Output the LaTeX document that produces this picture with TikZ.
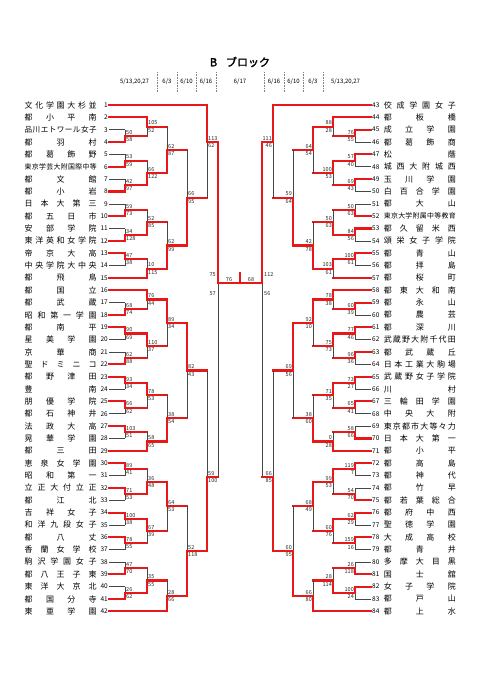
\documentclass[tikz,border=0pt]{standalone}
\usepackage{fontspec}
\setmainfont{Noto Sans CJK JP}[AutoFakeBold=2]
\usetikzlibrary{positioning}
\definecolor{winred}{RGB}{232,24,24}
\definecolor{losegray}{RGB}{70,70,70}
\tikzstyle{winline} = [draw=winred, line width=2.1pt, line cap=rect]
\tikzstyle{loseline} = [draw=losegray, line width=0.6pt]
\tikzstyle{score} = [font=\fontsize{5.5}{6}\selectfont, inner sep=0pt, text=black!85]
\tikzstyle{teamno} = [font=\fontsize{6.5}{7}\selectfont, inner sep=1pt]
\tikzstyle{sep} = [draw=gray, densely dotted, line width=0.6pt]
\tikzstyle{datelab} = [font=\fontsize{6}{7}\selectfont, inner sep=0pt]

% spread the characters of a name over a fixed width
\def\spreadA#1#2{#1\ifx\relax#2\else\hfill\expandafter\spreadA\expandafter#2\fi}
\newcommand{\spread}[1]{\hbox to 72pt{\expandafter\spreadA#1\relax}}

% one game on the left: x, y top, y bottom, y out, x next, winner, scores
\newcommand{\lbout}[8]{%
  \draw[loseline] (#1,#2) -- (#1,#3);
  \ifnum#6=1 \draw[winline] (#1,#2) -- (#1,#4) -- (#5,#4);
  \else \draw[winline] (#1,#3) -- (#1,#4) -- (#5,#4);\fi
  \node[score, anchor=south west] at (#1+1,#4-1.4) {#7};
  \node[score, anchor=north west] at (#1+1,#4+1.4) {#8};
}
% one game on the right
\newcommand{\rbout}[8]{%
  \draw[loseline] (#1,#2) -- (#1,#3);
  \ifnum#6=1 \draw[winline] (#1,#2) -- (#1,#4) -- (#5,#4);
  \else \draw[winline] (#1,#3) -- (#1,#4) -- (#5,#4);\fi
  \node[score, anchor=south east] at (#1-1,#4-1.4) {#7};
  \node[score, anchor=north east] at (#1-1,#4+1.4) {#8};
}

\begin{document}
\begin{tikzpicture}[x=1pt, y=-1pt]
  \useasboundingbox (0,0) rectangle (481,680);

  % title and dates
  \node[font=\bfseries\fontsize{11}{12}\selectfont] (title) at (240,62) {B\hspace{0.8em}ブロック};
  \foreach \xs in {157,177,196,216,264,284,303,323}
    \draw[sep] (\xs,72) -- (\xs,92);
  \foreach \xd/\dd in {134.5/{5/13,20,27}, 167/{6/3}, 186.5/{6/10}, 206/{6/16},
                       240/{6/17}, 274/{6/16}, 293.5/{6/10}, 313/{6/3}, 345.5/{5/13,20,27}}
    \node[datelab] at (\xd,82) {\dd};

  % left teams
  \foreach \k/\nm/\xe/\st/\fs in {
      1/文化学園大杉並/207/winline/8, 2/都小平南/147/winline/8,
      3/品川エトワール女子/125/loseline/7.6, 4/都羽村/125/winline/8,
      5/都葛飾野/125/loseline/8, 6/東京学芸大附国際中等/125/winline/6.9,
      7/都文館/125/loseline/8, 8/都小岩/125/winline/8,
      9/日本大第三/125/loseline/8, 10/都五日市/125/winline/8,
      11/安部学院/125/loseline/8, 12/東洋英和女学院/125/winline/8,
      13/帝京大高/125/winline/8, 14/中央学院大中央/125/loseline/8,
      15/都飛鳥/147/winline/8, 16/都国立/147/winline/8,
      17/都武蔵/125/loseline/8, 18/昭和第一学園/125/winline/8,
      19/都南平/125/winline/8, 20/星美学園/125/loseline/8,
      21/京華商/125/loseline/8, 22/聖ドミニコ/125/winline/8,
      23/都野津田/125/winline/8, 24/豊南/125/loseline/8,
      25/朋優学院/125/winline/8, 26/都石神井/125/loseline/8,
      27/法政大高/125/winline/8, 28/晃華学園/125/loseline/8,
      29/都三田/147/winline/8, 30/恵泉女学園/125/winline/8,
      31/昭和第一/125/loseline/8, 32/立正大付立正/125/winline/8,
      33/都江北/125/loseline/8, 34/吉祥女子/125/winline/8,
      35/和洋九段女子/125/loseline/8, 36/都八丈/125/winline/8,
      37/香蘭女学校/125/loseline/8, 38/駒沢学園女子/125/loseline/8,
      39/都八王子東/125/winline/8, 40/東洋大京北/125/loseline/8,
      41/都国分寺/125/winline/8, 42/東亜学園/167/winline/8}
  {
    \node[teamno, anchor=east] (L\k) at (109,{105+(\k-1)*12.35}) {\k};
    \node[inner sep=0pt, anchor=west, font=\fontsize{\fs}{10}\selectfont] (LN\k)
      at (24.5,{105+(\k-1)*12.35}) {\spread{\nm}};
    \draw[\st] (L\k.east) -- (L\k.east -| \xe,0);
  }

  % right teams
  \foreach \k/\nm/\xe/\st/\fs in {
      43/佼成学園女子/273/winline/8, 44/都板橋/333/winline/8,
      45/成立学園/355/winline/8, 46/都葛飾商/355/loseline/8,
      47/松蔭/355/winline/8, 48/城西大附城西/355/loseline/8,
      49/玉川学園/355/winline/8, 50/白百合学園/355/loseline/8,
      51/都大山/355/loseline/8, 52/東京大学附属中等教育/355/winline/6.9,
      53/都久留米西/355/winline/8, 54/頌栄女子学院/355/loseline/8,
      55/都青山/355/winline/8, 56/都拝島/355/loseline/8,
      57/都桜町/333/winline/8, 58/都東大和南/333/winline/8,
      59/都永山/355/winline/8, 60/都農芸/355/loseline/8,
      61/都深川/355/winline/8, 62/武蔵野大附千代田/355/loseline/8,
      63/都武蔵丘/355/winline/8, 64/日本工業大駒場/355/loseline/8,
      65/武蔵野女子学院/355/winline/8, 66/川村/355/loseline/8,
      67/三輪田学園/355/winline/8, 68/中央大附/355/loseline/8,
      69/東京都市大等々力/355/loseline/8, 70/日本大第一/355/winline/8,
      71/都小平/333/winline/8, 72/都高島/355/winline/8,
      73/都神代/355/loseline/8, 74/都竹早/355/loseline/8,
      75/都若葉総合/355/winline/8, 76/都府中西/355/winline/8,
      77/聖徳学園/355/loseline/8, 78/大成高校/355/winline/8,
      79/都青井/355/loseline/8, 80/多摩大目黒/355/loseline/8,
      81/国士舘/355/winline/8, 82/女子学院/355/winline/8,
      83/都戸山/355/loseline/8, 84/都上水/313/winline/8}
  {
    \node[teamno, anchor=west] (R\k) at (371,{105+(\k-43)*12.35}) {\k};
    \node[inner sep=0pt, anchor=east, font=\fontsize{\fs}{10}\selectfont] (RN\k)
      at (456,{105+(\k-43)*12.35}) {\spread{\nm}};
    \draw[\st] (R\k.west) -- (R\k.west -| \xe,0);
  }

  % left: first games
  \lbout{125}{129.70}{142.05}{135.88}{147}{2}{50}{58}
  \lbout{125}{154.40}{166.75}{160.58}{147}{2}{53}{59}
  \lbout{125}{179.10}{191.45}{185.28}{147}{2}{42}{97}
  \lbout{125}{203.80}{216.15}{209.98}{147}{2}{59}{73}
  \lbout{125}{228.50}{240.85}{234.68}{147}{2}{34}{128}
  \lbout{125}{253.20}{265.55}{259.38}{147}{1}{47}{38}
  \lbout{125}{302.60}{314.95}{308.78}{147}{2}{68}{74}
  \lbout{125}{327.30}{339.65}{333.48}{147}{1}{90}{69}
  \lbout{125}{352.00}{364.35}{358.18}{147}{2}{62}{88}
  \lbout{125}{376.70}{389.05}{382.88}{147}{1}{93}{34}
  \lbout{125}{401.40}{413.75}{407.58}{147}{1}{66}{62}
  \lbout{125}{426.10}{438.45}{432.28}{147}{1}{103}{51}
  \lbout{125}{463.15}{475.50}{469.33}{147}{1}{89}{41}
  \lbout{125}{487.85}{500.20}{494.03}{147}{1}{71}{53}
  \lbout{125}{512.55}{524.90}{518.73}{147}{1}{100}{38}
  \lbout{125}{537.25}{549.60}{543.43}{147}{1}{78}{55}
  \lbout{125}{561.95}{574.30}{568.13}{147}{2}{47}{70}
  \lbout{125}{586.65}{599.00}{592.83}{147}{2}{26}{62}
  % left: second games
  \lbout{147}{117.35}{135.88}{126.60}{167}{1}{105}{52}
  \lbout{147}{160.58}{185.28}{172.93}{167}{2}{66}{122}
  \lbout{147}{209.98}{234.68}{222.33}{167}{2}{52}{85}
  \lbout{147}{259.38}{277.90}{268.64}{167}{2}{10}{115}
  \lbout{147}{290.25}{308.78}{299.51}{167}{1}{76}{44}
  \lbout{147}{333.48}{358.18}{345.83}{167}{1}{110}{37}
  \lbout{147}{382.88}{407.58}{395.23}{167}{1}{78}{53}
  \lbout{147}{432.28}{450.80}{441.54}{167}{2}{58}{65}
  \lbout{147}{469.33}{494.03}{481.68}{167}{2}{36}{48}
  \lbout{147}{518.73}{543.43}{531.08}{167}{1}{67}{39}
  \lbout{147}{568.13}{592.83}{580.48}{167}{2}{35}{55}
  % left: 6/3
  \lbout{167}{126.60}{172.93}{149.76}{187}{2}{62}{87}
  \lbout{167}{222.33}{268.64}{245.48}{187}{2}{62}{99}
  \lbout{167}{299.51}{345.83}{322.67}{187}{1}{89}{34}
  \lbout{167}{395.23}{441.54}{418.38}{187}{2}{38}{54}
  \lbout{167}{481.68}{531.08}{506.38}{187}{1}{64}{53}
  \lbout{167}{580.48}{611.35}{595.90}{187}{2}{28}{66}
  % left: 6/10
  \lbout{187}{149.76}{245.48}{197.62}{207}{2}{66}{95}
  \lbout{187}{322.67}{418.38}{370.50}{207}{1}{82}{43}
  \lbout{187}{506.38}{595.90}{551.10}{207}{2}{52}{118}
  % left: 6/16
  \lbout{207}{105.00}{197.62}{142.00}{218}{1}{113}{62}
  \lbout{207}{370.50}{551.10}{477.00}{218}{2}{59}{100}

  % right: first games
  \rbout{355}{129.70}{142.05}{135.88}{333}{1}{76}{55}
  \rbout{355}{154.40}{166.75}{160.58}{333}{1}{57}{40}
  \rbout{355}{179.10}{191.45}{185.28}{333}{1}{69}{43}
  \rbout{355}{203.80}{216.15}{209.98}{333}{2}{50}{63}
  \rbout{355}{228.50}{240.85}{234.68}{333}{1}{84}{56}
  \rbout{355}{253.20}{265.55}{259.38}{333}{1}{100}{61}
  \rbout{355}{302.60}{314.95}{308.78}{333}{1}{60}{39}
  \rbout{355}{327.30}{339.65}{333.48}{333}{1}{77}{46}
  \rbout{355}{352.00}{364.35}{358.18}{333}{1}{96}{36}
  \rbout{355}{376.70}{389.05}{382.88}{333}{1}{73}{27}
  \rbout{355}{401.40}{413.75}{407.58}{333}{1}{65}{41}
  \rbout{355}{426.10}{438.45}{432.28}{333}{2}{58}{66}
  \rbout{355}{463.15}{475.50}{469.33}{333}{1}{119}{7}
  \rbout{355}{487.85}{500.20}{494.03}{333}{2}{54}{70}
  \rbout{355}{512.55}{524.90}{518.73}{333}{1}{62}{29}
  \rbout{355}{537.25}{549.60}{543.43}{333}{1}{159}{16}
  \rbout{355}{561.95}{574.30}{568.13}{333}{2}{26}{118}
  \rbout{355}{586.65}{599.00}{592.83}{333}{1}{100}{24}
  % right: second games
  \rbout{333}{117.35}{135.88}{126.60}{313}{1}{88}{28}
  \rbout{333}{160.58}{185.28}{172.93}{313}{1}{100}{53}
  \rbout{333}{209.98}{234.68}{222.33}{313}{2}{50}{63}
  \rbout{333}{259.38}{277.90}{268.64}{313}{1}{103}{61}
  \rbout{333}{290.25}{308.78}{299.51}{313}{1}{78}{38}
  \rbout{333}{333.48}{358.18}{345.83}{313}{1}{75}{73}
  \rbout{333}{382.88}{407.58}{395.23}{313}{1}{71}{35}
  \rbout{333}{432.28}{450.80}{441.54}{313}{2}{0}{28}
  \rbout{333}{469.33}{494.03}{481.68}{313}{1}{99}{53}
  \rbout{333}{518.73}{543.43}{531.08}{313}{1}{60}{76}
  \rbout{333}{568.13}{592.83}{580.48}{313}{2}{28}{114}
  % right: 6/3
  \rbout{313}{126.60}{172.93}{149.76}{293}{1}{64}{54}
  \rbout{313}{222.33}{268.64}{245.48}{293}{2}{42}{78}
  \rbout{313}{299.51}{345.83}{322.67}{293}{1}{92}{10}
  \rbout{313}{395.23}{441.54}{418.38}{293}{2}{38}{60}
  \rbout{313}{481.68}{531.08}{506.38}{293}{1}{68}{49}
  \rbout{313}{580.48}{611.35}{595.90}{293}{2}{66}{80}
  % right: 6/10
  \rbout{293}{149.76}{245.48}{197.62}{273}{2}{59}{64}
  \rbout{293}{322.67}{418.38}{370.50}{273}{1}{69}{56}
  \rbout{293}{506.38}{595.90}{551.10}{273}{2}{60}{95}
  % right: 6/16
  \rbout{273}{105.00}{197.62}{142.00}{262}{1}{111}{46}
  \rbout{273}{370.50}{551.10}{477.00}{262}{2}{66}{85}

  % 6/17 semifinals and final
  \draw[loseline] (218,142) -- (218,477);
  \draw[winline] (218,142) -- (218,283) -- (240,283);
  \draw[loseline] (262,142) -- (262,477);
  \draw[winline] (262,142) -- (262,283) -- (240,283);
  \draw[winline] (240,283) -- (240,273);
  \node[score, anchor=east] (sl1) at (216,275) {75};
  \node[score, anchor=east] (sl2) at (216,294) {57};
  \node[score, anchor=west] (sr1) at (264,275) {112};
  \node[score, anchor=west] (sr2) at (264,294) {56};
  \node[score, anchor=south] (fl) at (229,281.5) {76};
  \node[score, anchor=south] (fr) at (251,281.5) {68};
\end{tikzpicture}
\end{document}
